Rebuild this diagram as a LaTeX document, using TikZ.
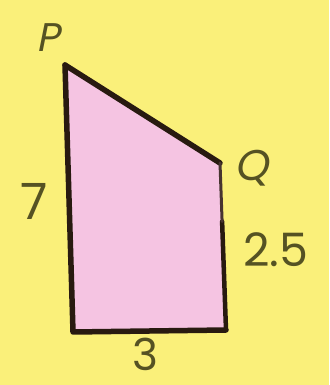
\documentclass[tikz,border=0pt]{standalone}
\usepackage{fontspec}
\setmainfont{Poppins}
\newfontfamily\slantfont[FakeSlant=0.2]{Poppins}
\usetikzlibrary{calc}
\definecolor{bgyellow}{RGB}{250,240,122}
\definecolor{shapepink}{RGB}{245,196,226}
\definecolor{edgedark}{RGB}{40,26,16}
\definecolor{labelolive}{RGB}{85,82,35}
\begin{document}
\begin{tikzpicture}[x=1pt,y=1pt,
  lbl/.style={text=labelolive,font=\fontsize{46}{48}\selectfont,inner sep=0pt},
  edge/.style={draw=edgedark,line width=5.5pt,line join=round,line cap=round}]
\fill[bgyellow] (0,0) rectangle (329,385);
\useasboundingbox (0,0) rectangle (329,385);
\coordinate (P) at (65,320);
\coordinate (Q) at (220,222);
\coordinate (R) at (226,55);
\coordinate (S) at (73,53);
\fill[shapepink] (P) -- (Q) -- (R) -- (S) -- cycle;
\draw[edge] (P) -- (Q);
\draw[edge] (R) -- (S) -- (P);
\draw[draw=edgedark,line width=4.5pt,line cap=round] (R) -- ($(R)!0.65!(Q)$);
\draw[draw=edgedark!85!shapepink,line width=3pt,line cap=round] ($(R)!0.65!(Q)$) -- (Q);
\node[lbl,font=\fontsize{40}{42}\selectfont\slantfont] (lp) at (48,347) {P};
\node[lbl,font=\fontsize{43}{45}\selectfont\slantfont] (lq) at (251,217) {Q};
\node[lbl,font=\fontsize{50}{52}\selectfont] (l7) at (34,184) {7};
\node[lbl] (l25) at (276,135) {2.5};
\node[lbl,font=\fontsize{44}{46}\selectfont] (l3) at (145,31) {3};
\end{tikzpicture}
\end{document}
